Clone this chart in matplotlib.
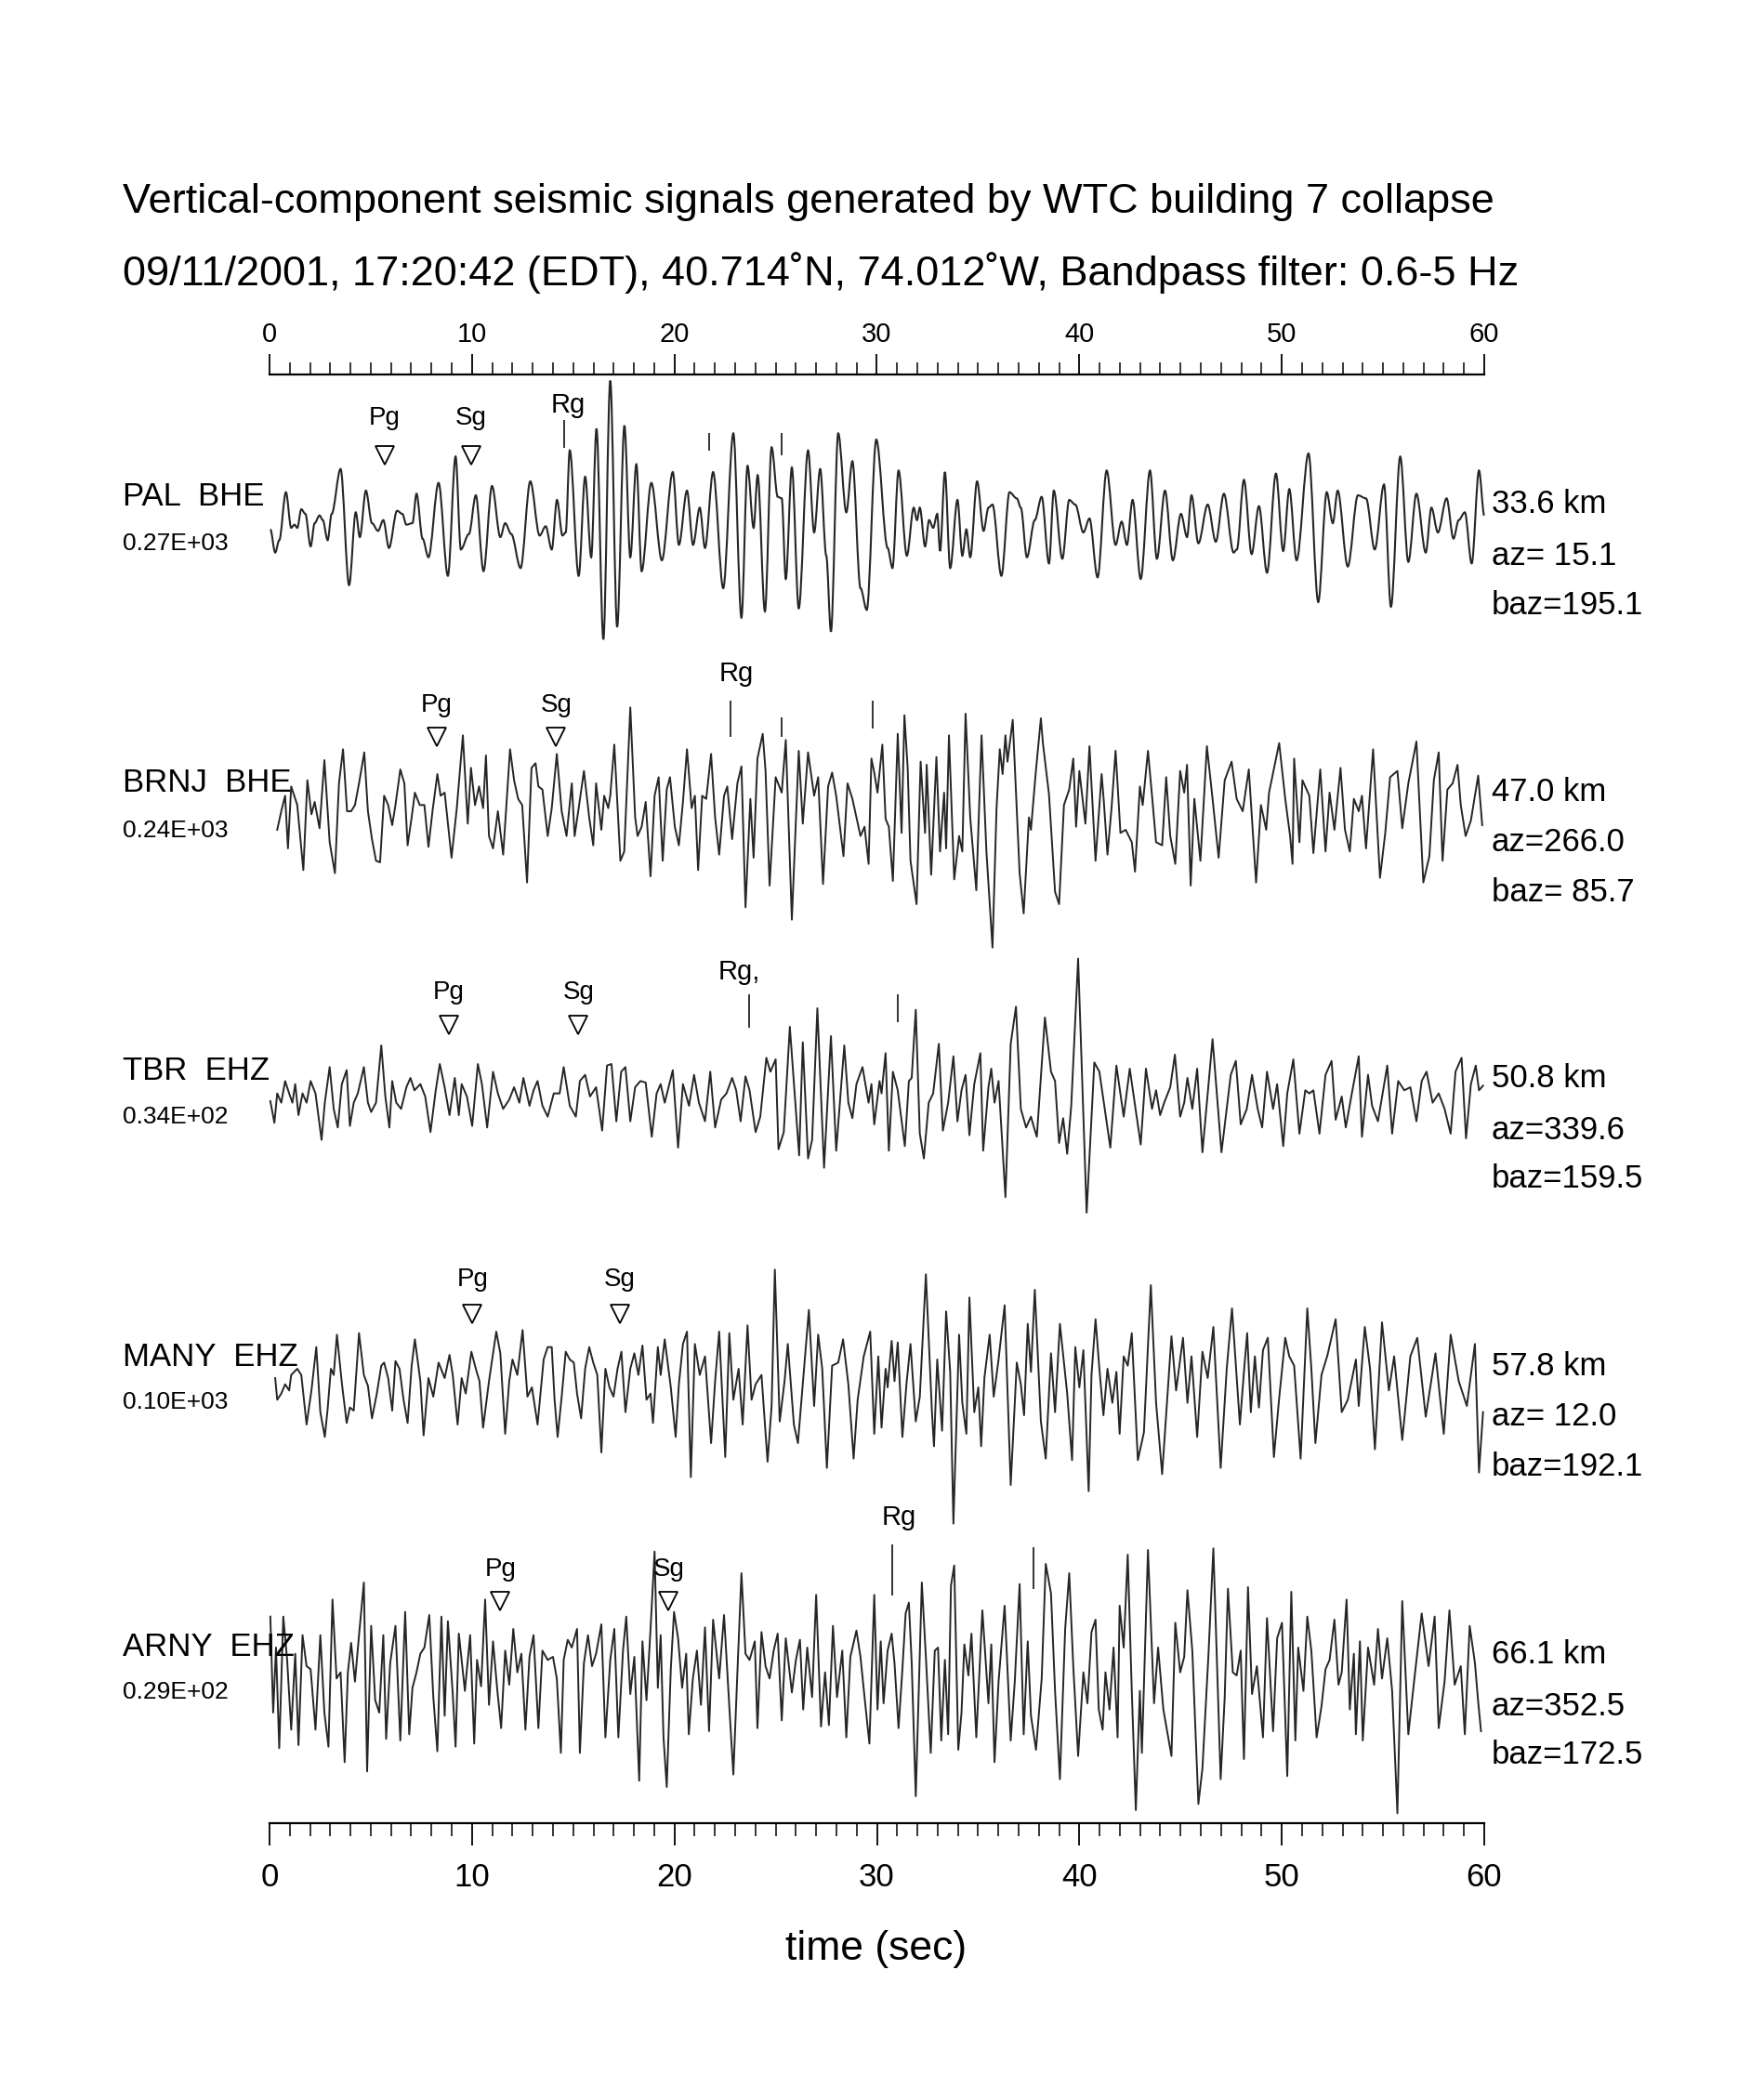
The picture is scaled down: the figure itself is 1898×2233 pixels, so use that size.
import numpy as np
import matplotlib.pyplot as plt
from matplotlib.path import Path
from matplotlib.patches import PathPatch

plt.rcParams['font.family'] = ['Liberation Sans', 'DejaVu Sans']

# digitized extrema of each trace: (time in s, amplitude in digitizer units)
pal = [(0.04,-20),(0.28,-95),(0.48,-55),(0.81,100),(1.07,-15),(1.23,-5),(1.37,-15),(1.57,45),(1.77,30),(2.03,-75),
       (2.23,0),(2.47,25),(2.63,10),(2.87,-55),(3.07,30),(3.51,175),(3.93,-200),(4.26,35),(4.46,-45),(4.76,105),
       (5.06,0),(5.36,-25),(5.62,10),(5.90,-80),(6.30,40),(6.56,30),(6.76,-5),(7.06,0),(7.26,95),(7.56,-50),
       (7.85,-110),(8.35,130),(8.81,-170),(9.19,215),(9.45,-85),(9.85,-35),(10.19,90),(10.57,-155),(10.99,120),(11.40,-45),
       (11.64,0),(11.94,-35),(12.40,-145),(12.88,135),(13.34,-40),(13.64,-10),(13.94,-85),(14.20,75),(14.47,-40),(14.63,-30),
       (14.83,235),(15.27,-170),(15.59,150),(15.89,-110),(16.15,305),(16.49,-375),(16.83,460),(17.17,-335),(17.53,315),(17.82,-110),
       (18.12,190),(18.38,-155),(18.86,130),(19.38,-120),(19.92,165),(20.22,-70),(20.62,105),(20.92,-70),(21.25,50),(21.51,-80),
       (21.91,165),(22.41,-210),(22.91,290),(23.31,-305),(23.61,185),(23.91,-15),(24.11,155),(24.47,-285),(24.80,245),(25.10,85),
       (25.30,80),(25.50,-180),(25.80,180),(26.14,-275),(26.60,235),(26.90,-30),(27.20,175),(27.50,-105),(27.73,-350),(28.09,290),
       (28.49,35),(28.79,200),(29.19,-210),(29.50,-280),(29.97,270),(30.53,-80),(30.77,-145),(31.07,170),(31.48,-105),(31.82,50),
       (31.98,10),(32.12,50),(32.38,-75),(32.58,10),(32.78,-15),(32.98,30),(33.12,-90),(33.36,165),(33.62,-145),(33.98,75),
       (34.22,-105),(34.42,-20),(34.61,-110),(34.95,135),(35.27,-25),(35.51,50),(35.71,60),(36.15,-170),(36.55,100),(36.91,80),
       (37.11,50),(37.41,-110),(37.80,10),(38.14,85),(38.50,-130),(38.74,105),(39.16,-115),(39.50,75),(39.80,60),(40.20,-30),
       (40.50,15),(40.90,-175),(41.35,170),(41.79,-70),(42.09,5),(42.35,-70),(42.63,75),(43.03,-180),(43.49,170),(43.83,-115),
       (44.23,105),(44.62,-120),(45.02,30),(45.32,-45),(45.54,90),(45.88,-65),(46.34,60),(46.74,-60),(47.14,95),(47.62,-95),
       (47.78,-85),(48.13,140),(48.51,-100),(48.87,55),(49.27,-160),(49.71,160),(50.07,-90),(50.37,110),(50.73,-120),(51.32,225),
       (51.80,-255),(52.22,100),(52.52,0),(52.76,105),(53.26,-140),(53.76,90),(54.16,80),(54.59,-85),(55.05,125),(55.39,-270),
       (55.85,215),(56.25,-125),(56.65,95),(57.11,-95),(57.39,50),(57.71,-30),(58.14,80),(58.48,-50),(58.74,10),(59.04,35),
       (59.38,-130),(59.74,170),(60.0,25)]

brnj = [(0.38,-75),(0.58,-15),(0.77,35),(0.91,-135),(1.07,65),(1.37,5),(1.67,-205),(1.87,85),(2.07,-25),(2.23,15),
        (2.47,-70),(2.71,150),(2.97,-115),(3.23,-215),(3.43,75),(3.63,185),(3.83,-15),(4.03,-15),(4.22,5),(4.42,75),
        (4.68,175),(4.86,-15),(5.06,-105),(5.26,-175),(5.46,-180),(5.66,35),(5.86,5),(6.06,-60),(6.22,5),(6.46,120),
        (6.66,75),(6.82,-125),(7.02,-35),(7.18,45),(7.42,5),(7.65,5),(7.85,-130),(8.05,-15),(8.29,105),(8.45,35),
        (8.65,45),(8.99,-165),(9.25,-5),(9.55,230),(9.79,-55),(9.95,125),(10.15,5),(10.35,65),(10.55,-5),(10.69,165),
        (10.84,-95),(11.04,-135),(11.28,-15),(11.54,-155),(11.88,185),(12.08,85),(12.28,25),(12.48,5),(12.72,-245),(12.94,125),
        (13.14,140),(13.28,65),(13.48,55),(13.74,-95),(13.94,-5),(14.19,170),(14.43,-15),(14.67,-95),(14.93,75),(15.07,-95),
        (15.27,-5),(15.53,115),(15.79,-35),(15.99,-125),(16.13,75),(16.39,-75),(16.53,35),(16.73,-5),(16.83,35),(17.03,200),
        (17.33,-175),(17.52,-145),(17.82,320),(18.06,-35),(18.18,-95),(18.38,-65),(18.58,15),(18.82,-225),(19.02,35),(19.22,95),
        (19.42,-175),(19.62,55),(19.78,95),(20.02,-65),(20.22,-125),(20.42,15),(20.62,185),(20.85,-5),(21.01,35),(21.17,-205),
        (21.37,35),(21.57,25),(21.81,170),(22.01,-35),(22.21,-155),(22.45,35),(22.61,65),(22.85,-105),(23.11,75),(23.31,130),
        (23.51,-325),(23.75,25),(23.91,-165),(24.10,155),(24.36,235),(24.50,115),(24.70,-255),(25.00,95),(25.30,45),(25.50,215),
        (25.80,-365),(26.14,180),(26.34,-55),(26.60,175),(26.90,35),(27.10,95),(27.34,-250),(27.59,65),(27.79,110),(27.99,35),
        (28.35,-160),(28.55,75),(28.79,25),(28.99,-35),(29.19,-95),(29.39,-65),(29.59,-185),(29.73,155),(29.87,110),(30.03,45),
        (30.27,200),(30.43,-40),(30.59,-65),(30.79,-240),(31.03,235),(31.22,-85),(31.36,295),(31.52,125),(31.66,-175),(31.96,-315),
        (32.16,145),(32.38,-85),(32.46,135),(32.68,-220),(32.94,160),(33.12,-145),(33.32,45),(33.42,-135),(33.56,230),(33.82,-235),
        (34.06,-95),(34.22,-145),(34.38,300),(34.61,-35),(34.91,-270),(35.17,230),(35.41,-145),(35.71,-455),(35.91,-5),(36.07,185),
        (36.21,105),(36.35,230),(36.45,145),(36.71,280),(37.05,-215),(37.25,-345),(37.51,-35),(37.61,-75),(37.84,105),(38.10,285),
        (38.20,205),(38.50,40),(38.80,-275),(39.00,-315),(39.24,5),(39.50,55),(39.70,155),(39.84,-65),(40.00,115),(40.30,-55),
        (40.50,195),(40.80,-175),(41.10,105),(41.20,25),(41.39,-155),(41.59,-5),(41.79,180),(42.03,-85),(42.29,-75),(42.59,-115),
        (42.75,-210),(42.99,65),(43.13,5),(43.39,180),(43.59,35),(43.79,-115),(44.09,-125),(44.29,95),(44.49,-95),(44.74,-185),
        (44.98,115),(45.18,45),(45.32,135),(45.50,-255),(45.68,25),(45.98,-175),(46.30,195),(46.58,25),(46.88,-165),(47.18,85),
        (47.52,145),(47.77,25),(48.07,-15),(48.37,120),(48.73,-245),(48.97,5),(49.23,-75),(49.37,45),(49.87,205),(50.17,25),
        (50.41,-95),(50.53,-185),(50.61,155),(50.87,-115),(51.02,85),(51.36,35),(51.56,-150),(51.90,120),(52.16,-145),(52.36,45),
        (52.60,-75),(52.90,125),(53.12,-75),(53.36,-145),(53.56,25),(53.80,-15),(53.96,35),(54.16,-135),(54.51,185),(54.85,-230),
        (55.11,-85),(55.35,95),(55.71,115),(55.95,-70),(56.25,75),(56.65,210),(56.99,-245),(57.29,-160),(57.51,85),(57.75,175),
        (57.94,-175),(58.18,55),(58.44,75),(58.68,135),(58.84,5),(59.08,-95),(59.34,-45),(59.70,100),(59.90,-60)]

tbr = [(0.04,-15),(0.24,-85),(0.38,10),(0.58,-20),(0.77,50),(0.97,10),(1.13,-20),(1.27,40),(1.43,-60),(1.63,10),
       (1.83,-20),(2.03,50),(2.27,10),(2.57,-140),(2.73,-20),(2.97,95),(3.17,-40),(3.37,-100),(3.57,40),(3.81,85),
       (3.97,-95),(4.16,-20),(4.36,10),(4.66,95),(4.86,-20),(5.02,-50),(5.26,-20),(5.52,165),(5.72,0),(5.92,-100),
       (6.06,50),(6.26,-20),(6.50,-40),(6.76,30),(6.96,60),(7.16,20),(7.45,40),(7.69,0),(7.95,-115),(8.21,20),
       (8.41,105),(8.65,30),(8.89,-60),(9.15,60),(9.35,-60),(9.49,40),(9.75,0),(10.01,-95),(10.29,105),(10.49,40),
       (10.75,-100),(11.04,80),(11.28,10),(11.54,-40),(11.84,-10),(12.08,30),(12.34,-20),(12.54,60),(12.84,-30),(13.04,20),
       (13.24,50),(13.48,-30),(13.74,-65),(14.04,10),(14.33,10),(14.53,95),(14.83,-30),(15.13,-65),(15.33,50),(15.59,70),
       (15.83,0),(16.13,30),(16.43,-110),(16.67,100),(16.89,105),(17.13,-80),(17.37,80),(17.58,95),(17.82,-80),(18.06,30),
       (18.32,50),(18.58,45),(18.88,-130),(19.12,10),(19.32,40),(19.52,-20),(19.92,85),(20.18,-165),(20.42,40),(20.72,-30),
       (20.97,70),(21.21,-20),(21.51,-80),(21.77,80),(22.01,-100),(22.31,-10),(22.57,10),(22.85,60),(23.05,20),(23.27,-80),
       (23.51,65),(23.71,20),(24.01,-115),(24.24,-65),(24.54,125),(24.74,80),(25.00,120),(25.14,-170),(25.40,-115),(25.70,225),
       (26.16,-190),(26.34,175),(26.60,-200),(26.80,-140),(27.06,285),(27.39,-230),(27.73,195),(27.99,-175),(28.39,165),(28.59,-20),
       (28.79,-70),(28.99,40),(29.29,95),(29.59,-20),(29.73,40),(29.87,-90),(30.13,50),(30.23,10),(30.43,140),(30.59,-175),
       (30.79,80),(31.03,20),(31.38,-160),(31.58,50),(31.72,60),(31.92,280),(32.12,-120),(32.32,-200),(32.56,-20),(32.78,10),
       (33.06,170),(33.26,-110),(33.52,-20),(33.78,130),(33.98,-80),(34.18,20),(34.38,70),(34.57,-125),(34.81,40),(35.11,140),
       (35.25,-175),(35.51,30),(35.65,90),(35.81,-20),(36.01,50),(36.35,-325),(36.61,170),(36.87,290),(37.11,-40),(37.37,-100),
       (37.61,-65),(37.76,-100),(37.90,-130),(38.30,255),(38.60,80),(38.80,50),(39.00,-150),(39.20,-70),(39.40,-185),(39.60,-30),
       (39.94,445),(40.36,-375),(40.74,110),(40.99,80),(41.19,-10),(41.53,-165),(41.83,100),(42.19,-65),(42.49,90),(42.69,0),
       (43.03,-155),(43.29,90),(43.59,-40),(43.79,20),(43.99,-60),(44.19,-20),(44.49,30),(44.72,135),(44.98,-65),(45.18,-20),
       (45.34,60),(45.58,-40),(45.82,90),(46.08,-180),(46.58,185),(47.02,-180),(47.48,70),(47.73,115),(47.97,-90),(48.27,-40),
       (48.53,70),(48.81,-40),(49.03,-100),(49.27,80),(49.57,-40),(49.77,40),(50.07,-160),(50.27,10),(50.57,120),(50.87,-120),
       (51.16,20),(51.36,10),(51.56,20),(51.86,-120),(52.16,70),(52.46,115),(52.66,-75),(52.96,0),(53.16,-100),(53.46,10),
       (53.80,130),(53.96,-130),(54.26,70),(54.46,-30),(54.75,-80),(55.21,100),(55.45,-120),(55.75,50),(56.05,20),(56.35,30),
       (56.65,-80),(56.91,50),(57.15,80),(57.45,-20),(57.75,10),(58.04,-40),(58.34,-120),(58.58,80),(58.88,125),(59.10,-135),
       (59.34,40),(59.58,100),(59.74,20),(59.94,35)]

many = [(0.28,0),(0.38,-70),(0.58,-50),(0.77,-20),(0.97,-40),(1.07,10),(1.37,30),(1.57,10),(1.83,-150),(2.07,-40),
        (2.31,100),(2.51,-110),(2.73,-190),(2.87,-100),(3.03,30),(3.17,10),(3.33,140),(3.57,-15),(3.81,-145),(3.97,-95),
        (4.16,-105),(4.42,145),(4.66,10),(4.86,-25),(5.06,-130),(5.30,-50),(5.52,40),(5.66,50),(5.86,0),(6.06,-105),
        (6.22,55),(6.42,30),(6.62,-70),(6.82,-145),(7.02,40),(7.18,125),(7.45,-10),(7.61,-185),(7.85,0),(8.09,-60),
        (8.35,50),(8.65,0),(8.89,75),(9.05,10),(9.29,-150),(9.49,0),(9.69,-50),(9.97,85),(10.19,30),(10.37,-10),
        (10.55,-160),(10.84,-10),(11.20,150),(11.40,80),(11.64,-180),(11.84,-10),(12.00,60),(12.24,10),(12.50,155),(12.74,-60),
        (12.96,-30),(13.24,-150),(13.54,60),(13.74,100),(13.94,100),(14.08,-70),(14.23,-190),(14.43,-60),(14.63,85),(14.83,60),
        (15.03,50),(15.19,-50),(15.39,-130),(15.59,30),(15.79,100),(15.99,50),(16.19,10),(16.39,-240),(16.59,30),(16.79,-30),
        (16.99,-60),(17.19,30),(17.38,85),(17.58,-110),(17.82,30),(18.02,80),(18.22,10),(18.42,105),(18.62,-70),(18.82,-50),
        (18.94,-145),(19.18,100),(19.32,10),(19.52,125),(19.82,-30),(20.06,-190),(20.22,-20),(20.42,110),(20.62,150),(20.81,-320),
        (21.01,110),(21.25,10),(21.51,70),(21.81,-210),(22.01,-10),(22.21,150),(22.51,-255),(22.71,145),(22.91,-70),(23.17,30),
        (23.37,-150),(23.61,170),(23.81,-70),(24.01,-20),(24.30,10),(24.60,-270),(24.80,-90),(24.96,350),(25.20,-140),(25.44,-10),
        (25.60,110),(25.90,-150),(26.10,-210),(26.40,30),(26.64,220),(26.90,-90),(27.10,140),(27.30,30),(27.53,-290),(27.79,40),
        (28.09,50),(28.33,125),(28.59,-20),(28.85,-260),(29.05,-70),(29.35,70),(29.67,150),(29.87,-180),(30.07,70),(30.23,-160),
        (30.43,30),(30.53,-30),(30.73,120),(30.87,-10),(31.03,115),(31.26,-190),(31.46,-20),(31.66,110),(31.92,-140),(32.12,-60),
        (32.42,335),(32.72,-110),(32.82,-220),(32.98,60),(33.22,-170),(33.42,215),(33.62,20),(33.78,-470),(34.06,140),(34.22,-80),
        (34.42,-180),(34.57,260),(34.81,-110),(35.01,-30),(35.15,-220),(35.31,0),(35.57,140),(35.77,-60),(36.01,60),(36.31,235),
        (36.61,-345),(36.91,50),(37.11,-20),(37.27,-120),(37.45,175),(37.61,20),(37.80,285),(38.10,-140),(38.34,-260),(38.60,80),
        (38.80,-110),(39.04,175),(39.40,-50),(39.64,-265),(39.80,100),(40.00,-30),(40.20,90),(40.46,-365),(40.60,10),(40.80,190),
        (40.99,30),(41.19,-120),(41.39,30),(41.63,-80),(41.83,20),(41.99,-180),(42.19,70),(42.39,40),(42.59,145),(42.89,-265),
        (43.19,-175),(43.53,300),(43.79,-80),(44.09,-310),(44.39,-20),(44.55,135),(44.78,-40),(45.12,130),(45.34,-80),(45.54,70),
        (45.82,-190),(46.08,85),(46.34,0),(46.62,165),(46.98,-290),(47.28,30),(47.54,225),(47.93,-150),(48.13,20),(48.29,145),
        (48.47,-110),(48.67,70),(48.87,-95),(49.07,90),(49.31,130),(49.61,-255),(49.87,-65),(50.17,130),(50.37,70),(50.61,40),
        (50.93,-260),(51.26,225),(51.46,30),(51.66,-210),(51.96,10),(52.26,75),(52.66,190),(52.96,-110),(53.26,-70),(53.66,60),
        (53.80,-90),(54.10,165),(54.36,30),(54.60,-230),(54.95,180),(55.29,-40),(55.55,70),(55.95,-200),(56.35,70),(56.69,130),
        (57.11,-125),(57.59,80),(58.00,-180),(58.34,140),(58.74,-10),(59.14,-90),(59.54,110),(59.74,-305),(59.94,-110)]

arny = [(0.04,160),(0.18,-150),(0.32,60),(0.48,-265),(0.68,160),(0.87,20),(1.07,-205),(1.27,40),(1.43,-255),(1.63,100),
        (1.83,0),(2.03,-10),(2.27,-205),(2.51,100),(2.71,-150),(2.91,-260),(3.11,215),(3.31,-40),(3.51,-20),(3.71,-310),
        (3.87,-20),(4.03,75),(4.22,-50),(4.42,100),(4.66,270),(4.82,-340),(5.02,130),(5.22,-110),(5.42,-150),(5.62,100),
        (5.76,-235),(5.96,10),(6.22,130),(6.46,-240),(6.70,175),(6.90,-220),(7.06,-70),(7.26,-20),(7.45,40),(7.65,60),
        (7.89,165),(8.09,-100),(8.29,-275),(8.49,160),(8.65,-160),(8.81,145),(9.05,-90),(9.19,-260),(9.35,105),(9.65,-80),
        (9.91,100),(10.11,-250),(10.25,20),(10.45,-65),(10.65,215),(10.84,-125),(11.04,80),(11.24,-70),(11.44,-200),(11.64,50),
        (11.84,-60),(12.04,120),(12.24,-20),(12.44,40),(12.64,-205),(12.84,30),(13.04,100),(13.28,-200),(13.48,50),(13.74,20),
        (14.00,30),(14.19,-40),(14.39,-280),(14.53,20),(14.73,85),(14.93,60),(15.19,120),(15.33,-280),(15.53,10),(15.73,100),
        (15.93,0),(16.13,40),(16.39,135),(16.59,-230),(16.83,20),(17.03,120),(17.23,-230),(17.46,50),(17.62,160),(17.82,-90),
        (18.02,30),(18.26,-370),(18.42,80),(18.62,-110),(18.82,120),(19.02,370),(19.18,-70),(19.32,100),(19.46,-230),(19.62,-390),
        (19.82,-10),(19.98,175),(20.18,90),(20.38,-70),(20.58,40),(20.71,-220),(20.91,-40),(21.11,50),(21.31,-125),(21.51,125),
        (21.71,-210),(21.91,150),(22.21,-40),(22.45,165),(22.71,-130),(22.91,-350),(23.11,-20),(23.31,300),(23.51,40),(23.71,20),
        (23.97,80),(24.10,-200),(24.30,110),(24.50,0),(24.70,-40),(24.90,50),(25.10,105),(25.30,-175),(25.50,90),(25.80,-85),
        (26.00,20),(26.20,85),(26.36,-140),(26.56,60),(26.80,-100),(27.00,230),(27.24,-195),(27.44,-20),(27.63,-190),(27.83,130),
        (28.03,-100),(28.29,50),(28.49,-230),(28.69,30),(28.99,115),(29.19,30),(29.39,-100),(29.63,-250),(29.87,230),(30.03,-140),
        (30.19,80),(30.33,-120),(30.53,50),(30.73,105),(30.87,10),(31.07,-200),(31.26,-10),(31.42,170),(31.58,205),(31.72,10),
        (31.92,-420),(32.22,270),(32.42,30),(32.66,-280),(32.86,50),(33.02,60),(33.18,-240),(33.36,20),(33.52,-220),(33.66,260),
        (33.82,325),(34.02,-270),(34.18,-150),(34.32,70),(34.52,-30),(34.67,105),(34.91,-230),(35.21,180),(35.51,-120),(35.65,70),
        (35.81,-310),(36.01,-50),(36.31,195),(36.61,-240),(36.81,-50),(37.05,265),(37.25,-220),(37.45,80),(37.61,-160),(37.86,-270),
        (38.14,-40),(38.34,330),(38.60,235),(38.80,-80),(39.04,-365),(39.30,120),(39.50,300),(39.70,0),(39.94,-290),(40.20,-20),
        (40.40,-120),(40.60,110),(40.80,150),(40.96,-140),(41.15,-205),(41.29,-20),(41.49,-140),(41.69,60),(41.89,-230),(41.99,195),
        (42.19,60),(42.39,360),(42.59,-80),(42.79,-465),(42.99,-80),(43.09,-280),(43.39,375),(43.69,-120),(43.89,60),(44.15,-140),
        (44.55,-290),(44.74,140),(44.98,-20),(45.18,30),(45.34,245),(45.58,50),(45.88,-445),(46.08,-330),(46.38,40),(46.62,380),
        (46.98,-365),(47.18,-100),(47.34,250),(47.58,-20),(47.77,-30),(47.97,50),(48.13,-300),(48.33,255),(48.53,-90),(48.77,0),
        (49.07,-230),(49.27,155),(49.57,-210),(49.77,90),(50.01,140),(50.27,-355),(50.47,240),(50.67,-240),(50.81,60),(51.07,-80),
        (51.26,160),(51.46,50),(51.72,-230),(51.96,-130),(52.16,-10),(52.36,20),(52.60,150),(52.80,-60),(52.96,-20),(53.20,215),
        (53.36,-140),(53.56,40),(53.66,-220),(53.86,80),(54.00,-240),(54.26,60),(54.56,-60),(54.75,120),(54.95,-40),(55.21,90),
        (55.45,-80),(55.71,-475),(55.95,210),(56.25,-220),(56.55,-40),(56.91,170),(57.25,0),(57.55,160),(57.75,-200),(58.04,-50),
        (58.28,180),(58.54,-60),(58.84,0),(59.04,-220),(59.28,130),(59.54,10),(59.70,-115),(59.84,-210)]

stations = ['PAL  BHE', 'BRNJ  BHE', 'TBR  EHZ', 'MANY  EHZ', 'ARNY  EHZ']
scales = ['0.27E+03', '0.24E+03', '0.34E+02', '0.10E+03', '0.29E+02']
dist = ['33.6 km', '47.0 km', '50.8 km', '57.8 km', '66.1 km']
az = ['az= 15.1', 'az=266.0', 'az=339.6', 'az= 12.0', 'az=352.5']
baz = ['baz=195.1', 'baz= 85.7', 'baz=159.5', 'baz=192.1', 'baz=172.5']

# phase picks (s)
pg_t = [5.70, 8.25, 8.84, 10.02, 11.40]
sg_t = [9.95, 14.15, 15.26, 17.29, 19.71]
rg_t = [14.54, 22.79, 23.71, None, 30.78]
rg_lab_t = [14.73, 23.05, 23.18, None, 31.1]
rg_txt = ['Rg', 'Rg', 'Rg,', None, 'Rg']
extra_t = [[21.71, 25.30], [25.28, 29.80], [31.04], [], [37.72]]

traces = [pal, brnj, tbr, many, arny]
smooth = [True, False, False, False, False]

# layout (pixels from top of figure)
W, H = 1898, 2233
Y_TOP, Y_BOT = 403, 1962
X0, X1 = 290, 1597
base_y = [563, 868, 1180, 1483, 1793]
name_y = [534, 843, 1152, 1461, 1772]
scale_y = [585, 894, 1202, 1509, 1821]
info_y = [543, 852, 1161, 1470, 1781]
pg_lab_y = [450, 759, 1068, 1377, 1689]
tri_y = [490, 793, 1103, 1414, 1723]
rg_lab_y = [436, 725, 1046, None, 1633]
rg_tick_y = [(453, 481), (755, 792), (1071, 1105), None, (1663, 1716)]
extra_y = [[(467, 484), (467, 489)], [(773, 792), (755, 783)], [(1071, 1099)], [], [(1666, 1709)]]

def py(y):
    return Y_BOT - y

fig = plt.figure(figsize=(W/100, H/100), dpi=100)
ax = fig.add_axes([X0/W, 1-Y_BOT/H, (X1-X0)/W, (Y_BOT-Y_TOP)/H])
ax.set_xlim(0, 60)
ax.set_ylim(0, Y_BOT-Y_TOP)

col = '#262626'
for i, tr in enumerate(traces):
    t = np.array([p[0] for p in tr])
    y = py(base_y[i]) + np.array([p[1] for p in tr])/3.0
    if smooth[i]:
        # draw the long-period trace with rounded turning points
        verts = [(t[0], y[0])]
        codes = [Path.MOVETO]
        for k in range(1, len(t)):
            dt = t[k] - t[k-1]
            verts += [(t[k-1] + dt/3, y[k-1]), (t[k] - dt/3, y[k]), (t[k], y[k])]
            codes += [Path.CURVE4]*3
        ax.add_patch(PathPatch(Path(verts, codes), fill=False, edgecolor=col, lw=1.5, clip_on=False))
    else:
        ax.plot(t, y, color=col, lw=1.4, clip_on=False)

    ax.text(pg_t[i], py(pg_lab_y[i]), 'Pg', ha='center', va='center', fontsize=20)
    ax.text(sg_t[i], py(pg_lab_y[i]), 'Sg', ha='center', va='center', fontsize=20)
    ax.plot([pg_t[i], sg_t[i]], [py(tri_y[i])]*2, ls='none', marker='v', ms=14,
            mfc='white', mec='k', mew=1.3)
    if rg_t[i] is not None:
        ax.text(rg_lab_t[i], py(rg_lab_y[i]), rg_txt[i], ha='center', va='center', fontsize=21)
        y1, y2 = rg_tick_y[i]
        ax.plot([rg_t[i], rg_t[i]], [py(y1), py(y2)], color='#333333', lw=1.4)
    for tt, (y1, y2) in zip(extra_t[i], extra_y[i]):
        ax.plot([tt, tt], [py(y1), py(y2)], color='#333333', lw=1.4)

    fig.text(132/W, 1-name_y[i]/H, stations[i], fontsize=25, va='center', ha='left')
    fig.text(132/W, 1-scale_y[i]/H, scales[i], fontsize=19, va='center', ha='left')
    fig.text(1605/W, 1-info_y[i]/H, dist[i], fontsize=25, va='center', ha='left')
    fig.text(1605/W, 1-(info_y[i]+55)/H, az[i], fontsize=25, va='center', ha='left')
    fig.text(1605/W, 1-(info_y[i]+108)/H, baz[i], fontsize=25, va='center', ha='left')

for s in ['left', 'right', 'top']:
    ax.spines[s].set_visible(False)
ax.spines['bottom'].set_linewidth(1.6)
ax.set_yticks([])
ax.set_xticks(np.arange(0, 61, 10))
ax.set_xticks(np.arange(0, 61, 1), minor=True)
ax.tick_params(axis='x', which='major', direction='out', length=17, width=1.3, labelsize=25, pad=13)
ax.tick_params(axis='x', which='minor', direction='out', length=10, width=1.1)

axt = ax.twiny()
axt.set_xlim(0, 60)
for s in ['left', 'right', 'bottom']:
    axt.spines[s].set_visible(False)
axt.spines['top'].set_linewidth(1.6)
axt.set_xticks(np.arange(0, 61, 10))
axt.set_xticks(np.arange(0, 61, 1), minor=True)
axt.tick_params(axis='x', which='major', direction='out', length=16, width=1.3, labelsize=21, pad=5)
axt.tick_params(axis='x', which='minor', direction='out', length=9.5, width=1.1)

fig.text(943/W, 1-2098/H, 'time (sec)', fontsize=32, ha='center', va='center')
fig.text(132/W, 1-218/H, 'Vertical-component seismic signals generated by WTC building 7 collapse',
         fontsize=32.5, ha='left', va='center')
fig.text(132/W, 1-294/H, '09/11/2001, 17:20:42 (EDT), 40.714\u02daN, 74.012\u02daW, Bandpass filter: 0.6-5 Hz',
         fontsize=32.5, ha='left', va='center')

fig.savefig('out.png', dpi=100)
